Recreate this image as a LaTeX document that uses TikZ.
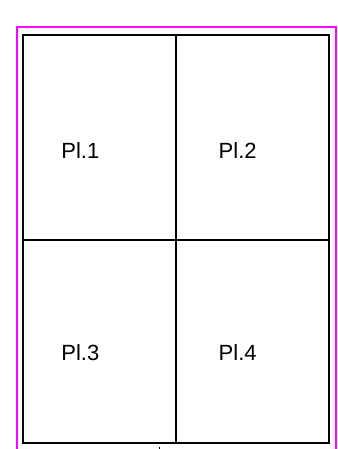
\documentclass[tikz,border=0pt]{standalone}
\usepackage{fontspec}
\setmainfont{Liberation Sans}
\definecolor{framepink}{RGB}{255,0,255}
\begin{document}
\begin{tikzpicture}[x=1pt,y=-1pt,
  grid/.style={draw=black,line width=2pt},
  pinkline/.style={draw=framepink,line width=2pt},
  lbl/.style={anchor=base west,inner sep=0pt,font=\fontsize{22}{26}\selectfont}]
\fill[white] (0,0) rectangle (337,449);
\useasboundingbox (0,0) rectangle (337,449);
\coordinate (fbl) at (17,449);
\coordinate (ftl) at (17,27.5);
\coordinate (ftr) at (335.5,27.5);
\coordinate (fbr) at (335.5,449);
\draw[pinkline] (fbl) -- (ftl) -- (ftr) -- (fbr);
\draw[grid] (23,34.7) rectangle (329.3,443);
\draw[grid] (176,34.7) -- (176,443);
\draw[grid] (23,239.7) -- (329.3,239.7);
\draw[black,line width=1pt] (159,447) -- (159,449);
\node[lbl] (p1) at (61.2,158.3) {Pl.1};
\node[lbl] (p2) at (218.5,158.3) {Pl.2};
\node[lbl] (p3) at (61.2,360.3) {Pl.3};
\node[lbl] (p4) at (218.5,360.3) {Pl.4};
\end{tikzpicture}
\end{document}
